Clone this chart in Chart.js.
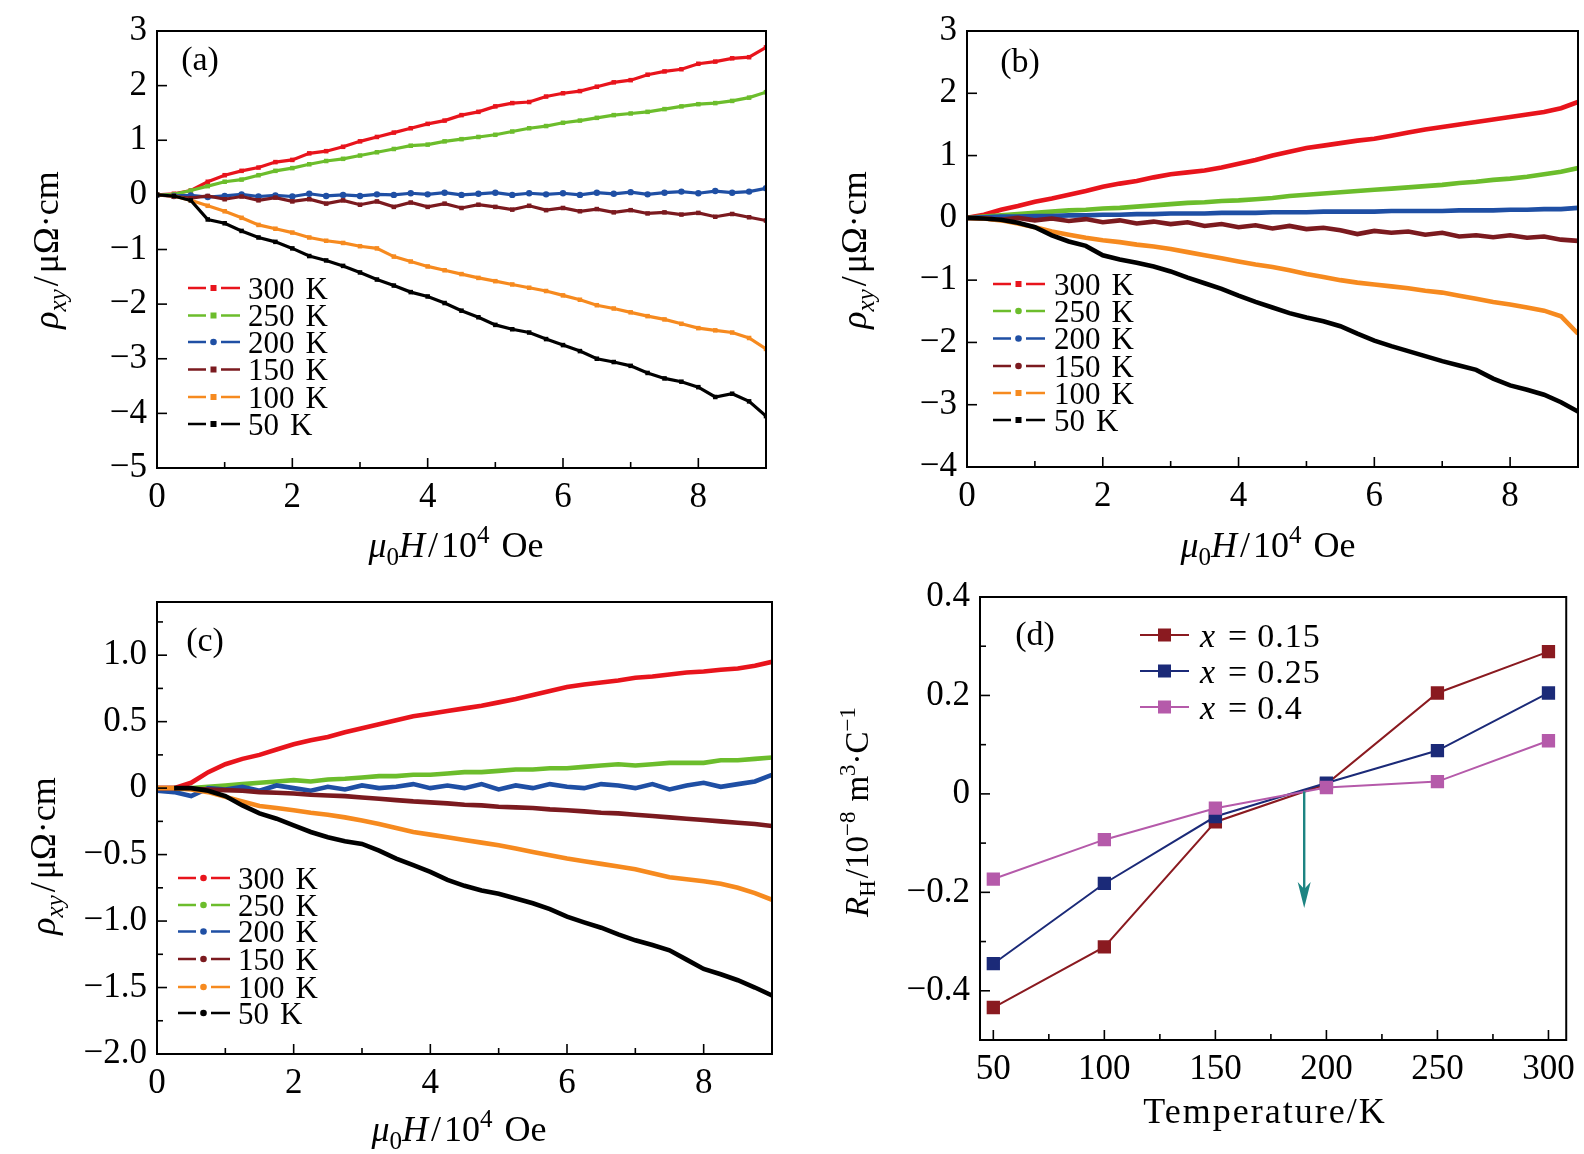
<!DOCTYPE html>
<html>
<head>
<meta charset="utf-8">
<script src="https://cdn.jsdelivr.net/npm/chart.js@4.4.1/dist/chart.umd.min.js"></script>
<style>
html,body{margin:0;padding:0;background:#fff;}
#wrap{position:relative;width:1584px;height:1154px;overflow:hidden;background:#fff;}
#wrap canvas{position:absolute;left:0;top:0;}
.pre{position:absolute;left:-9999px;top:0;font-family:"Liberation Serif";font-size:30px;}
</style>
</head>
<body>
<span class="pre">0123 K</span><span class="pre" style="font-style:italic">ρxy μ H R</span>
<div id="wrap">
<canvas id="ca" width="1584" height="1154"></canvas>
<canvas id="cb" width="1584" height="1154"></canvas>
<canvas id="cc" width="1584" height="1154"></canvas>
<canvas id="cd" width="1584" height="1154"></canvas>
</div>
<script>
// ---------------- DATA ----------------
const fieldH = [0,0.25,0.5,0.75,1,1.25,1.5,1.75,2,2.25,2.5,2.75,3,3.25,3.5,3.75,4,4.25,4.5,4.75,5,5.25,5.5,5.75,6,6.25,6.5,6.75,7,7.25,7.5,7.75,8,8.25,8.5,8.75,9];
const tempLabels = ['300 K','250 K','200 K','150 K','100 K','50 K'];

// panel (a)
const a300 = [0.00,0.02,0.08,0.24,0.36,0.44,0.50,0.60,0.64,0.76,0.80,0.88,0.98,1.06,1.14,1.22,1.30,1.36,1.46,1.52,1.62,1.68,1.70,1.80,1.86,1.90,1.98,2.06,2.10,2.20,2.26,2.30,2.40,2.44,2.50,2.52,2.70];
const a250 = [0.00,0.01,0.08,0.16,0.24,0.28,0.36,0.44,0.49,0.56,0.62,0.66,0.72,0.78,0.84,0.90,0.92,0.98,1.02,1.06,1.10,1.16,1.22,1.26,1.32,1.36,1.41,1.46,1.49,1.52,1.57,1.62,1.66,1.68,1.72,1.78,1.88];
const a200 = [0.00,-0.02,-0.01,-0.04,-0.02,0.01,-0.03,-0.01,-0.03,0.02,-0.02,0.00,-0.02,0.01,0.00,0.03,0.01,0.04,0.00,0.02,0.04,0.00,0.03,0.01,0.03,0.00,0.04,0.02,0.05,0.01,0.04,0.06,0.03,0.07,0.04,0.06,0.12];
const a150 = [0.00,-0.03,-0.06,-0.02,-0.08,-0.03,-0.10,-0.05,-0.12,-0.08,-0.16,-0.10,-0.18,-0.12,-0.22,-0.14,-0.22,-0.16,-0.24,-0.18,-0.22,-0.27,-0.20,-0.28,-0.24,-0.30,-0.26,-0.32,-0.28,-0.34,-0.32,-0.36,-0.33,-0.40,-0.35,-0.41,-0.47];
const a100 = [0.00,-0.02,-0.10,-0.20,-0.30,-0.42,-0.55,-0.62,-0.69,-0.78,-0.84,-0.88,-0.94,-0.98,-1.13,-1.22,-1.31,-1.38,-1.45,-1.52,-1.58,-1.64,-1.70,-1.76,-1.84,-1.92,-2.02,-2.08,-2.15,-2.22,-2.28,-2.36,-2.44,-2.48,-2.52,-2.62,-2.82];
const a50  = [0.00,-0.02,-0.10,-0.45,-0.52,-0.66,-0.78,-0.86,-0.98,-1.12,-1.20,-1.30,-1.42,-1.55,-1.66,-1.78,-1.86,-1.98,-2.12,-2.24,-2.38,-2.46,-2.52,-2.64,-2.75,-2.86,-3.00,-3.06,-3.13,-3.26,-3.36,-3.42,-3.52,-3.70,-3.64,-3.78,-4.05];

// panel (b)
const b300 = [0.00,0.05,0.13,0.19,0.26,0.31,0.37,0.43,0.50,0.55,0.59,0.65,0.70,0.73,0.76,0.81,0.87,0.93,1.00,1.06,1.12,1.16,1.20,1.24,1.27,1.32,1.37,1.42,1.46,1.50,1.54,1.58,1.62,1.66,1.70,1.76,1.86];
const b250 = [0.00,0.02,0.04,0.06,0.08,0.10,0.12,0.13,0.15,0.16,0.18,0.20,0.22,0.24,0.25,0.27,0.28,0.30,0.32,0.35,0.37,0.39,0.41,0.43,0.45,0.47,0.49,0.51,0.53,0.56,0.58,0.61,0.63,0.66,0.70,0.74,0.80];
const b200 = [0.00,0.01,0.02,0.02,0.03,0.03,0.04,0.04,0.05,0.05,0.06,0.06,0.07,0.07,0.07,0.08,0.08,0.08,0.09,0.09,0.09,0.10,0.10,0.10,0.10,0.11,0.11,0.11,0.11,0.12,0.12,0.12,0.13,0.13,0.14,0.14,0.16];
const b150 = [0.00,-0.01,-0.03,0.00,-0.04,-0.01,-0.05,-0.02,-0.07,-0.04,-0.09,-0.06,-0.10,-0.07,-0.13,-0.10,-0.15,-0.12,-0.17,-0.13,-0.18,-0.16,-0.20,-0.26,-0.21,-0.24,-0.22,-0.27,-0.24,-0.30,-0.28,-0.31,-0.28,-0.32,-0.30,-0.35,-0.37];
const b100 = [0.00,-0.01,-0.04,-0.09,-0.15,-0.22,-0.27,-0.32,-0.36,-0.39,-0.43,-0.46,-0.50,-0.55,-0.60,-0.65,-0.70,-0.75,-0.79,-0.84,-0.90,-0.95,-1.00,-1.04,-1.07,-1.10,-1.13,-1.17,-1.20,-1.25,-1.30,-1.35,-1.39,-1.44,-1.49,-1.58,-1.86];
const b50  = [0.00,-0.01,-0.03,-0.08,-0.15,-0.28,-0.38,-0.45,-0.60,-0.67,-0.72,-0.78,-0.86,-0.96,-1.05,-1.14,-1.25,-1.35,-1.44,-1.53,-1.60,-1.66,-1.74,-1.86,-1.97,-2.06,-2.14,-2.22,-2.30,-2.37,-2.44,-2.58,-2.69,-2.76,-2.84,-2.96,-3.11];

// panel (c)
const c300 = [0.00,0.00,0.04,0.12,0.18,0.22,0.25,0.29,0.33,0.36,0.385,0.42,0.45,0.48,0.51,0.54,0.56,0.58,0.60,0.62,0.645,0.67,0.70,0.73,0.76,0.78,0.795,0.81,0.83,0.84,0.855,0.87,0.877,0.89,0.90,0.92,0.95];
const c250 = [0.00,-0.01,0.00,0.01,0.02,0.03,0.04,0.05,0.06,0.05,0.065,0.07,0.08,0.09,0.09,0.10,0.10,0.11,0.12,0.12,0.13,0.14,0.14,0.15,0.15,0.16,0.17,0.18,0.17,0.18,0.19,0.19,0.19,0.21,0.21,0.22,0.23];
const c200 = [-0.02,-0.03,-0.06,0.00,-0.01,0.01,-0.02,0.02,0.00,-0.02,0.01,-0.01,0.02,0.00,0.01,0.03,0.00,0.02,0.00,0.03,-0.01,0.02,0.00,0.03,0.01,0.00,0.03,0.02,0.00,0.03,-0.01,0.02,0.04,0.01,0.03,0.05,0.10];
const c150 = [0.00,0.00,-0.005,-0.01,-0.015,-0.02,-0.03,-0.035,-0.04,-0.05,-0.055,-0.06,-0.07,-0.08,-0.09,-0.10,-0.107,-0.115,-0.125,-0.13,-0.14,-0.145,-0.15,-0.16,-0.167,-0.175,-0.185,-0.19,-0.20,-0.21,-0.22,-0.23,-0.24,-0.25,-0.26,-0.27,-0.285];
const c100 = [0.00,0.00,-0.01,-0.03,-0.066,-0.10,-0.134,-0.15,-0.167,-0.185,-0.20,-0.22,-0.243,-0.27,-0.30,-0.33,-0.35,-0.37,-0.39,-0.41,-0.43,-0.455,-0.48,-0.505,-0.53,-0.55,-0.57,-0.59,-0.61,-0.64,-0.67,-0.685,-0.70,-0.72,-0.75,-0.79,-0.84];
const c50  = [null,0.00,0.00,-0.02,-0.06,-0.13,-0.19,-0.23,-0.28,-0.33,-0.37,-0.40,-0.42,-0.47,-0.53,-0.58,-0.63,-0.69,-0.735,-0.77,-0.795,-0.83,-0.866,-0.91,-0.967,-1.01,-1.05,-1.10,-1.145,-1.18,-1.22,-1.29,-1.36,-1.40,-1.445,-1.50,-1.56];

// panel (d)
const temps = [50,100,150,200,250,300];
const dLabels = ['0.15','0.25','0.4'];
const d015 = [-0.434,-0.311,-0.057,0.020,0.205,0.289];
const d025 = [-0.345,-0.182,-0.046,0.022,0.088,0.205];
const d040 = [-0.173,-0.093,-0.029,0.013,0.025,0.108];
const arrowT = 190, arrowFrom = 0.005, arrowTo = -0.232;

// tick values and labels
const xMajorH = [0,2,4,6,8], xMinorH = [1,3,5,7];
const xLabelsH = ['0','2','4','6','8'];
const yMajorA = [-5,-4,-3,-2,-1,0,1,2,3];
const yLabelsA = ['\u22125','\u22124','\u22123','\u22122','\u22121','0','1','2','3'];
const yMajorB = [-4,-3,-2,-1,0,1,2,3];
const yLabelsB = ['\u22124','\u22123','\u22122','\u22121','0','1','2','3'];
const yMajorC = [-2,-1.5,-1,-0.5,0,0.5,1];
const yMinorC = [-1.75,-1.25,-0.75,-0.25,0.25,0.75,1.25];
const yLabelsC = ['\u22122.0','\u22121.5','\u22121.0','\u22120.5','0','0.5','1.0'];
const xMajorD = [50,100,150,200,250,300], xMinorD = [75,125,175,225,275];
const xLabelsD = ['50','100','150','200','250','300'];
const yMajorD = [-0.4,-0.2,0,0.2,0.4], yMinorD = [-0.3,-0.1,0.1,0.3];
const yLabelsD = ['\u22120.4','\u22120.2','0','0.2','0.4'];

// ---------------- STYLE / LAYOUT ----------------
const W = 1584, Hh = 1154, YW = 150, XH = 70;
const FONT = '"Liberation Serif", "DejaVu Serif", serif';
const TICK_SIZE = 35;
const colT = ['#e8141c','#6cbd2c','#1f4fa4','#7b1a1f','#f68a1f','#000000'];
const colD = ['#8a1a20','#1b2a78','#b55aaa'];

function drawRich(ctx, parts, x, y, size, opt) {
  opt = opt || {};
  ctx.save();
  ctx.translate(x, y);
  if (opt.rotate) ctx.rotate(-Math.PI / 2);
  if (opt.spacing) ctx.letterSpacing = opt.spacing + 'px';
  const fontOf = p => (p.it ? 'italic ' : '') + ((p.sub || p.sup) ? Math.round(size * 0.7) : size) + 'px ' + FONT;
  const ws = parts.map(p => { ctx.font = fontOf(p); return ctx.measureText(p.t).width + (p.gap || 0); });
  const total = ws.reduce((s, v) => s + v, 0);
  let cx = opt.left ? 0 : -total / 2;
  ctx.textBaseline = 'alphabetic';
  ctx.textAlign = 'left';
  ctx.fillStyle = '#000';
  const base = size * 0.34;
  parts.forEach((p, i) => {
    ctx.font = fontOf(p);
    const dy = p.sub ? size * 0.22 : (p.sup ? -size * 0.40 : 0);
    ctx.fillText(p.t, cx, base + dy);
    cx += ws[i];
  });
  ctx.restore();
}

const decor = {
  id: 'decor',
  afterDraw(chart, args, o) {
    const ctx = chart.ctx, a = chart.chartArea, xs = chart.scales.x, ys = chart.scales.y;
    ctx.save();
    ctx.strokeStyle = '#000';
    ctx.lineWidth = 1.6;
    const tick = (vals, len, axis) => (vals || []).forEach(v => {
      ctx.beginPath();
      if (axis === 'x') { const p = xs.getPixelForValue(v); ctx.moveTo(p, a.bottom); ctx.lineTo(p, a.bottom - len); }
      else { const p = ys.getPixelForValue(v); ctx.moveTo(a.left, p); ctx.lineTo(a.left + len, p); }
      ctx.stroke();
    });
    tick(o.xMajor, 10, 'x'); tick(o.xMinor, 6, 'x');
    tick(o.yMajor, 10, 'y'); tick(o.yMinor, 6, 'y');
    ctx.lineWidth = 2;
    ctx.strokeRect(a.left, a.top, a.right - a.left, a.bottom - a.top);
    if (o.arrow) {
      const px = xs.getPixelForValue(o.arrow.x), y0 = ys.getPixelForValue(o.arrow.from), y1 = ys.getPixelForValue(o.arrow.to);
      ctx.strokeStyle = '#1d8482'; ctx.fillStyle = '#1d8482'; ctx.lineWidth = 2.4;
      ctx.beginPath(); ctx.moveTo(px, y0); ctx.lineTo(px, y1 - 12); ctx.stroke();
      ctx.beginPath(); ctx.moveTo(px, y1); ctx.lineTo(px - 6.5, y1 - 26); ctx.lineTo(px, y1 - 19); ctx.lineTo(px + 6.5, y1 - 26); ctx.closePath(); ctx.fill();
    }
    if (o.legend) {
      const L = o.legend;
      L.rows.forEach((y, i) => {
        const c = L.colors[i];
        ctx.strokeStyle = c; ctx.fillStyle = c;
        if (L.type === 'dash') {
          ctx.lineWidth = 2.4;
          ctx.beginPath(); ctx.moveTo(L.x0, y); ctx.lineTo(L.x0 + 18, y); ctx.moveTo(L.x0 + 33, y); ctx.lineTo(L.x0 + 52, y); ctx.stroke();
          if (L.dots[i] === 'c') { ctx.beginPath(); ctx.arc(L.x0 + 25.5, y, 3.3, 0, 2 * Math.PI); ctx.fill(); }
          else ctx.fillRect(L.x0 + 22.5, y - 3, 6, 6);
          const parts = L.labels[i].split(' ');
          drawRich(ctx, [{t: parts[0], gap: 11}, {t: parts[1]}], L.tx, y, L.size, {left: true});
        } else {
          ctx.lineWidth = 2;
          ctx.beginPath(); ctx.moveTo(L.x0, y); ctx.lineTo(L.x0 + 49, y); ctx.stroke();
          ctx.fillRect(L.x0 + 24.5 - 6.5, y - 6.5, 13, 13);
          drawRich(ctx, [{t: 'x', it: true, gap: 12}, {t: '=', gap: 9}, {t: L.labels[i]}], L.tx, y, L.size, {left: true, spacing: 1});
        }
      });
    }
    ctx.fillStyle = '#000';
    ctx.font = '34px ' + FONT; ctx.textAlign = 'center'; ctx.textBaseline = 'middle';
    ctx.fillText(o.panel.t, o.panel.x, o.panel.y);
    drawRich(ctx, o.xTitle.parts, o.xTitle.x, o.xTitle.y, o.xTitle.size || 36, {spacing: o.xTitle.spacing || 0});
    drawRich(ctx, o.yTitle.parts, o.yTitle.x, o.yTitle.y, o.yTitle.size || 36, {rotate: true, spacing: o.yTitle.spacing || 0});
    ctx.restore();
  }
};

const titleH = [{t: '\u03bc', it: true}, {t: '0', sub: true}, {t: 'H', it: true, gap: 3}, {t: '/', gap: 3}, {t: '10'}, {t: '4', sup: true, gap: 12}, {t: 'Oe'}];
const titleRho = [{t: '\u03c1', it: true}, {t: 'xy', it: true, sub: true, gap: 3}, {t: '/', gap: 3}, {t: '\u03bc\u03a9\u00b7cm'}];
const titleT = [{t: 'Temperature/K'}];
const titleRH = [{t: 'R', it: true}, {t: 'H', sub: true, gap: 2}, {t: '/10'}, {t: '\u22128', sup: true, gap: 10}, {t: 'm'}, {t: '3', sup: true}, {t: '\u00b7C'}, {t: '\u22121', sup: true}];

function pts(xv, yv) { return xv.map((x, i) => ({x: x, y: yv[i]})); }

function axisCfg(min, max, majors, labels, horizontal) {
  return {
    type: 'linear', min: min, max: max,
    grid: {display: false, drawTicks: false},
    border: {display: false},
    afterBuildTicks: s => { s.ticks = majors.map(v => ({value: v})); },
    afterFit: s => { if (horizontal) s.height = XH; else s.width = YW; },
    ticks: {
      color: '#000', font: {family: FONT, size: TICK_SIZE},
      padding: horizontal ? 9 : 10, autoSkip: false, maxRotation: 0,
      callback: (v, i) => labels[i]
    }
  };
}

function makeChart(id, area, datasets, xs, ys, decorOpts) {
  return new Chart(document.getElementById(id), {
    type: 'line',
    data: {datasets: datasets},
    options: {
      responsive: false, animation: false, events: [],
      layout: {padding: {left: area.l - YW, top: area.t, right: W - area.r, bottom: Hh - area.b - XH}},
      plugins: {legend: {display: false}, tooltip: {enabled: false}, decor: decorOpts},
      scales: {x: xs, y: ys}
    },
    plugins: [decor]
  });
}

function hallSets(series, thin) {
  const order = [6, 5, 4, 3, 2, 1];
  return series.map((s, i) => ({
    label: tempLabels[i], data: pts(fieldH, s),
    borderColor: colT[i], backgroundColor: colT[i],
    borderWidth: thin ? 3.2 : 4.6,
    pointStyle: i === 2 ? 'circle' : 'rect',
    pointRadius: thin ? 3.2 : 0, pointBorderWidth: 0,
    pointBackgroundColor: colT[i],
    tension: 0, spanGaps: false, order: order[i]
  }));
}

const dotTypes = ['s', 's', 'c', 's', 's', 's'];

function build() {
  makeChart('ca', {l: 157, t: 18, r: 766, b: 468},
    hallSets([a300, a250, a200, a150, a100, a50], true),
    axisCfg(0, 9, xMajorH, xLabelsH, true), axisCfg(-5, 3, yMajorA, yLabelsA, false),
    {xMajor: xMajorH, xMinor: xMinorH, yMajor: yMajorA, yMinor: [],
     legend: {type: 'dash', x0: 188, tx: 248, size: 31, rows: [288, 315.5, 342, 369.5, 397, 424], colors: colT, dots: dotTypes, labels: tempLabels},
     panel: {t: '(a)', x: 200, y: 61},
     xTitle: {parts: titleH, x: 456, y: 545}, yTitle: {parts: titleRho, x: 46, y: 250}});

  makeChart('cb', {l: 967, t: 18, r: 1578, b: 467},
    hallSets([b300, b250, b200, b150, b100, b50], false),
    axisCfg(0, 9, xMajorH, xLabelsH, true), axisCfg(-4, 3, yMajorB, yLabelsB, false),
    {xMajor: xMajorH, xMinor: xMinorH, yMajor: yMajorB, yMinor: [],
     legend: {type: 'dash', x0: 993, tx: 1054, size: 31, rows: [284, 311, 338.5, 366, 393, 420], colors: colT, dots: ['s', 'c', 'c', 'c', 's', 's'], labels: tempLabels},
     panel: {t: '(b)', x: 1020, y: 63},
     xTitle: {parts: titleH, x: 1268, y: 545}, yTitle: {parts: titleRho, x: 854, y: 250}});

  makeChart('cc', {l: 157, t: 602, r: 772, b: 1054},
    hallSets([c300, c250, c200, c150, c100, c50], false),
    axisCfg(0, 9, xMajorH, xLabelsH, true), axisCfg(-2, 1.4, yMajorC, yLabelsC, false),
    {xMajor: xMajorH, xMinor: xMinorH, yMajor: yMajorC, yMinor: yMinorC,
     legend: {type: 'dash', x0: 178, tx: 238, size: 31, rows: [878, 905, 931.5, 959, 987, 1013], colors: colT, dots: ['c', 'c', 'c', 'c', 'c', 'c'], labels: tempLabels},
     panel: {t: '(c)', x: 205, y: 642},
     xTitle: {parts: titleH, x: 459, y: 1129}, yTitle: {parts: titleRho, x: 43, y: 856}});

  const dSeries = [d015, d025, d040];
  makeChart('cd', {l: 980, t: 597, r: 1579, b: 1040},
    dSeries.map((s, i) => ({
      label: 'x = ' + dLabels[i], data: pts(temps, s),
      borderColor: colD[i], backgroundColor: colD[i], borderWidth: 2,
      pointStyle: 'rect', pointRadius: 9.4, pointBorderWidth: 0, pointBackgroundColor: colD[i],
      tension: 0, order: 3 - i
    })),
    axisCfg(44, 308, xMajorD, xLabelsD, true), axisCfg(-0.5, 0.4, yMajorD, yLabelsD, false),
    {xMajor: xMajorD, xMinor: xMinorD, yMajor: yMajorD, yMinor: yMinorD,
     arrow: {x: arrowT, from: arrowFrom, to: arrowTo},
     legend: {type: 'sq', x0: 1140, tx: 1200, size: 34, rows: [635, 671, 707], colors: colD, labels: dLabels},
     panel: {t: '(d)', x: 1035, y: 636},
     xTitle: {parts: titleT, x: 1265, y: 1111, size: 36, spacing: 2}, yTitle: {parts: titleRH, x: 857, y: 812, size: 33}});
}

let built = false;
function go() { if (!built) { built = true; build(); } }
if (document.fonts && document.fonts.load) {
  Promise.all([
    document.fonts.load('34px "Liberation Serif"'),
    document.fonts.load('italic 34px "Liberation Serif"')
  ]).then(go, go);
  setTimeout(go, 1500);
} else { go(); }
</script>
</body>
</html>
